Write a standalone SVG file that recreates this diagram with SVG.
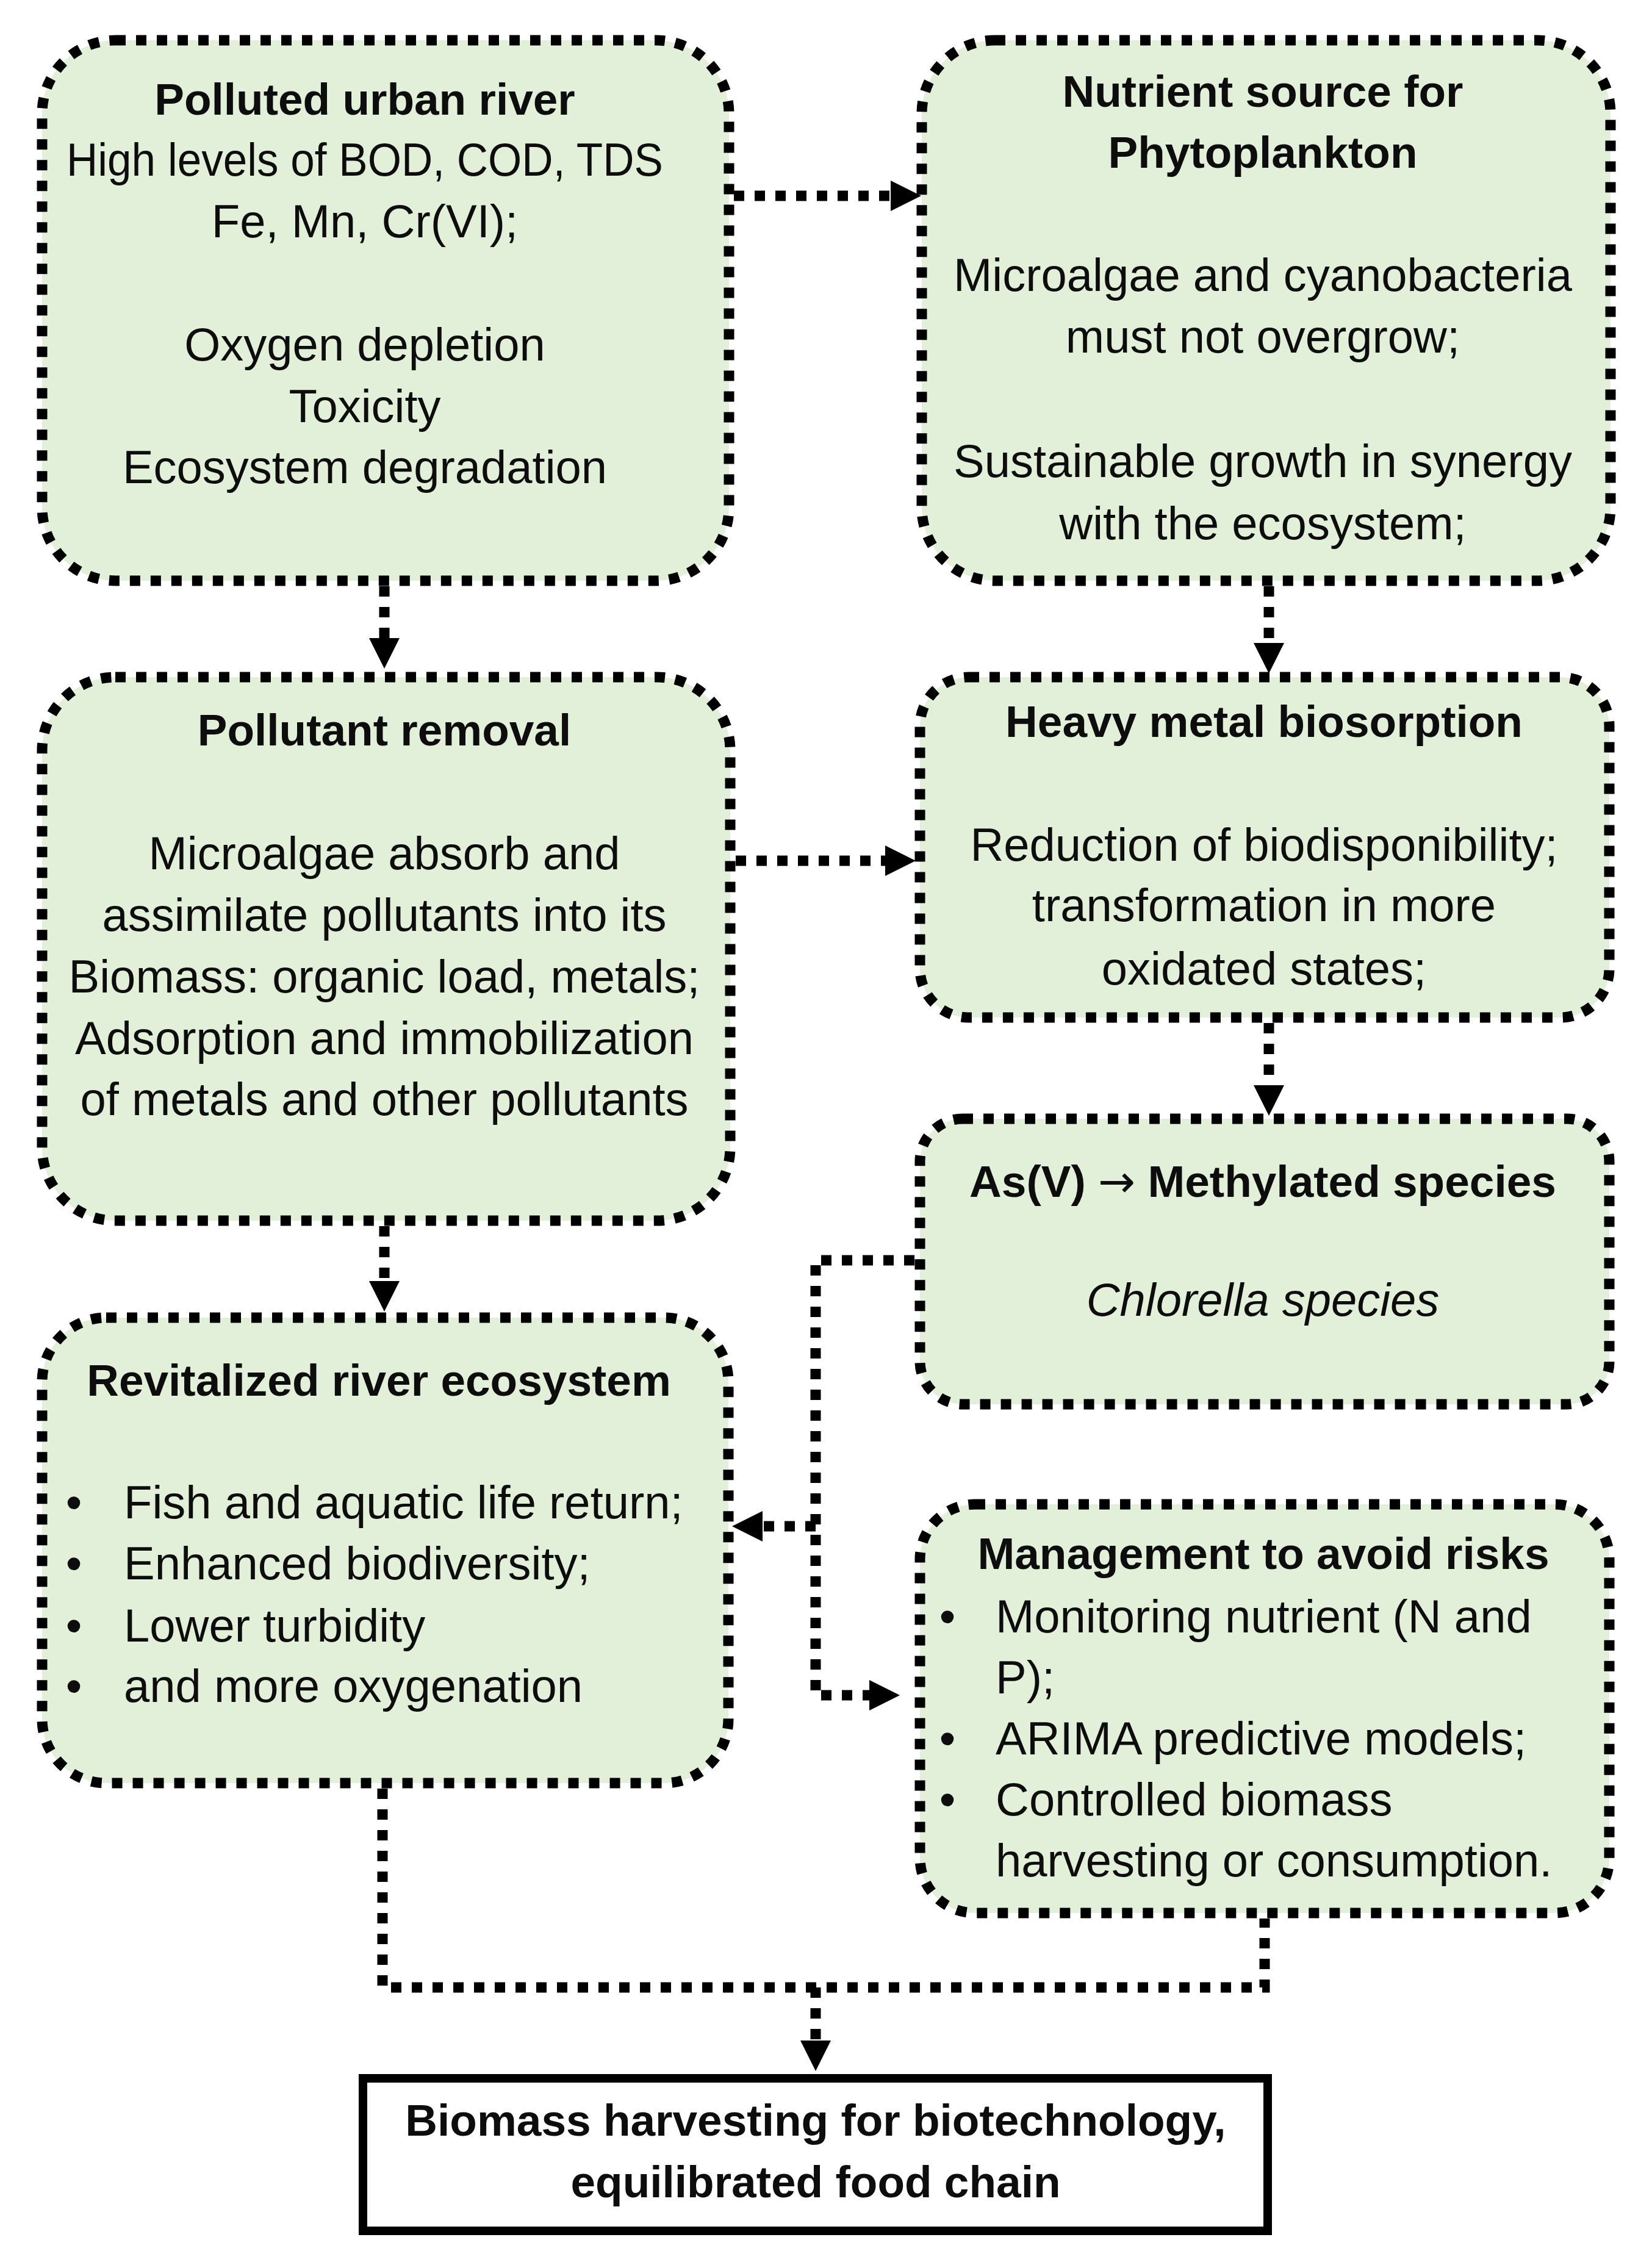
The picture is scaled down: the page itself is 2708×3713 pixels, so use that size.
<svg xmlns="http://www.w3.org/2000/svg" width="2708" height="3713" viewBox="0 0 2708 3713">
<defs>
<style>
.box{fill:#e2efd9;stroke:#000;stroke-width:17;stroke-dasharray:17 17;}
.conn{fill:none;stroke:#000;stroke-width:17;stroke-dasharray:17 17;}
text{font-family:"Liberation Sans",Arial,sans-serif;fill:#0d0d0d;}
.t{font-size:73px;font-weight:bold;text-anchor:middle;}
.c{font-size:76px;text-anchor:middle;}
.l{font-size:76px;}
.bul{font-size:76px;text-anchor:middle;}
.i{font-style:italic;}
.arr{font-family:"DejaVu Sans",sans-serif;font-weight:normal;}
</style>
<marker id="ah" markerUnits="userSpaceOnUse" markerWidth="50" markerHeight="50" refX="0" refY="25" orient="auto" viewBox="0 0 50 50"><path d="M0,0 L50,25 L0,50 z" fill="#000"/></marker>
</defs>
<rect width="2708" height="3713" fill="#fff"/>
<g id="connectors">
<path class="conn" d="M1203,321 H1460" marker-end="url(#ah)"/>
<path class="conn" d="M630,961 V1046" marker-end="url(#ah)"/>
<path class="conn" d="M2080,961 V1054" marker-end="url(#ah)"/>
<path class="conn" d="M1206,1411 H1451" marker-end="url(#ah)"/>
<path class="conn" d="M2080,1677 V1779" marker-end="url(#ah)"/>
<path class="conn" d="M630,2010 V2100" marker-end="url(#ah)"/>
<path class="conn" d="M1499,2066 H1337 V2779 H1425" marker-end="url(#ah)"/>
<path class="conn" d="M1337,2502 H1250" marker-end="url(#ah)"/>
<path class="conn" d="M627,2932 V3258 H2073 V3145"/>
<path class="conn" d="M1337,3258 V3345" marker-end="url(#ah)"/>
</g>
<g id="node-polluted-river">
<rect class="box" x="69" y="66" width="1126" height="886" rx="120"/>
<text class="t" x="598" y="188">Polluted urban river</text>
<text class="c" x="598" y="288" textLength="978" lengthAdjust="spacingAndGlyphs">High levels of BOD, COD, TDS</text>
<text class="c" x="598" y="389">Fe, Mn, Cr(VI);</text>
<text class="c" x="598" y="591">Oxygen depletion</text>
<text class="c" x="598" y="692">Toxicity</text>
<text class="c" x="598" y="792">Ecosystem degradation</text>
</g>
<g id="node-nutrient-source">
<rect class="box" x="1511" y="66" width="1129" height="886" rx="120"/>
<text class="t" x="2070" y="175">Nutrient source for</text>
<text class="t" x="2070" y="275">Phytoplankton</text>
<text class="c" x="2070" y="477">Microalgae and cyanobacteria</text>
<text class="c" x="2070" y="578">must not overgrow;</text>
<text class="c" x="2070" y="782">Sustainable growth in synergy</text>
<text class="c" x="2070" y="884">with the ecosystem;</text>
</g>
<g id="node-pollutant-removal">
<rect class="box" x="69" y="1110" width="1128" height="891" rx="120"/>
<text class="t" x="630" y="1222">Pollutant removal</text>
<text class="c" x="630" y="1425">Microalgae absorb and</text>
<text class="c" x="630" y="1526">assimilate pollutants into its</text>
<text class="c" x="630" y="1627">Biomass: organic load, metals;</text>
<text class="c" x="630" y="1728">Adsorption and immobilization</text>
<text class="c" x="630" y="1828">of metals and other pollutants</text>
</g>
<g id="node-heavy-metal">
<rect class="box" x="1508" y="1110" width="1130" height="558" rx="80"/>
<text class="t" x="2072" y="1208">Heavy metal biosorption</text>
<text class="c" x="2072" y="1411">Reduction of biodisponibility;</text>
<text class="c" x="2072" y="1510">transformation in more</text>
<text class="c" x="2072" y="1614">oxidated states;</text>
</g>
<g id="node-arsenic">
<rect class="box" x="1508" y="1834" width="1130" height="468" rx="70"/>
<text class="t" x="2070" y="1962">As(V) <tspan class="arr">→</tspan> Methylated species</text>
<text class="c i" x="2070" y="2157">Chlorella species</text>
</g>
<g id="node-revitalized">
<rect class="box" x="69" y="2160" width="1125" height="763" rx="105"/>
<text class="t" x="621" y="2288">Revitalized river ecosystem</text>
<text class="bul" x="121" y="2489">•</text>
<text class="l" x="203" y="2489">Fish and aquatic life return;</text>
<text class="bul" x="121" y="2589">•</text>
<text class="l" x="203" y="2589">Enhanced biodiversity;</text>
<text class="bul" x="121" y="2691">•</text>
<text class="l" x="203" y="2691">Lower turbidity</text>
<text class="bul" x="121" y="2790">•</text>
<text class="l" x="203" y="2790">and more oxygenation</text>
</g>
<g id="node-management">
<rect class="box" x="1508" y="2466" width="1130" height="670" rx="90"/>
<text class="t" x="2071" y="2572">Management to avoid risks</text>
<text class="bul" x="1553" y="2676">•</text>
<text class="l" x="1632" y="2676">Monitoring nutrient (N and</text>
<text class="l" x="1632" y="2776">P);</text>
<text class="bul" x="1553" y="2876">•</text>
<text class="l" x="1632" y="2876">ARIMA predictive models;</text>
<text class="bul" x="1553" y="2976">•</text>
<text class="l" x="1632" y="2976">Controlled biomass</text>
<text class="l" x="1632" y="3076">harvesting or consumption.</text>
</g>
<g id="node-biomass">
<rect x="595" y="3407" width="1483" height="250" fill="#fff" stroke="#000" stroke-width="14"/>
<text class="t" x="1337" y="3501">Biomass harvesting for biotechnology,</text>
<text class="t" x="1337" y="3602">equilibrated food chain</text>
</g>
</svg>
